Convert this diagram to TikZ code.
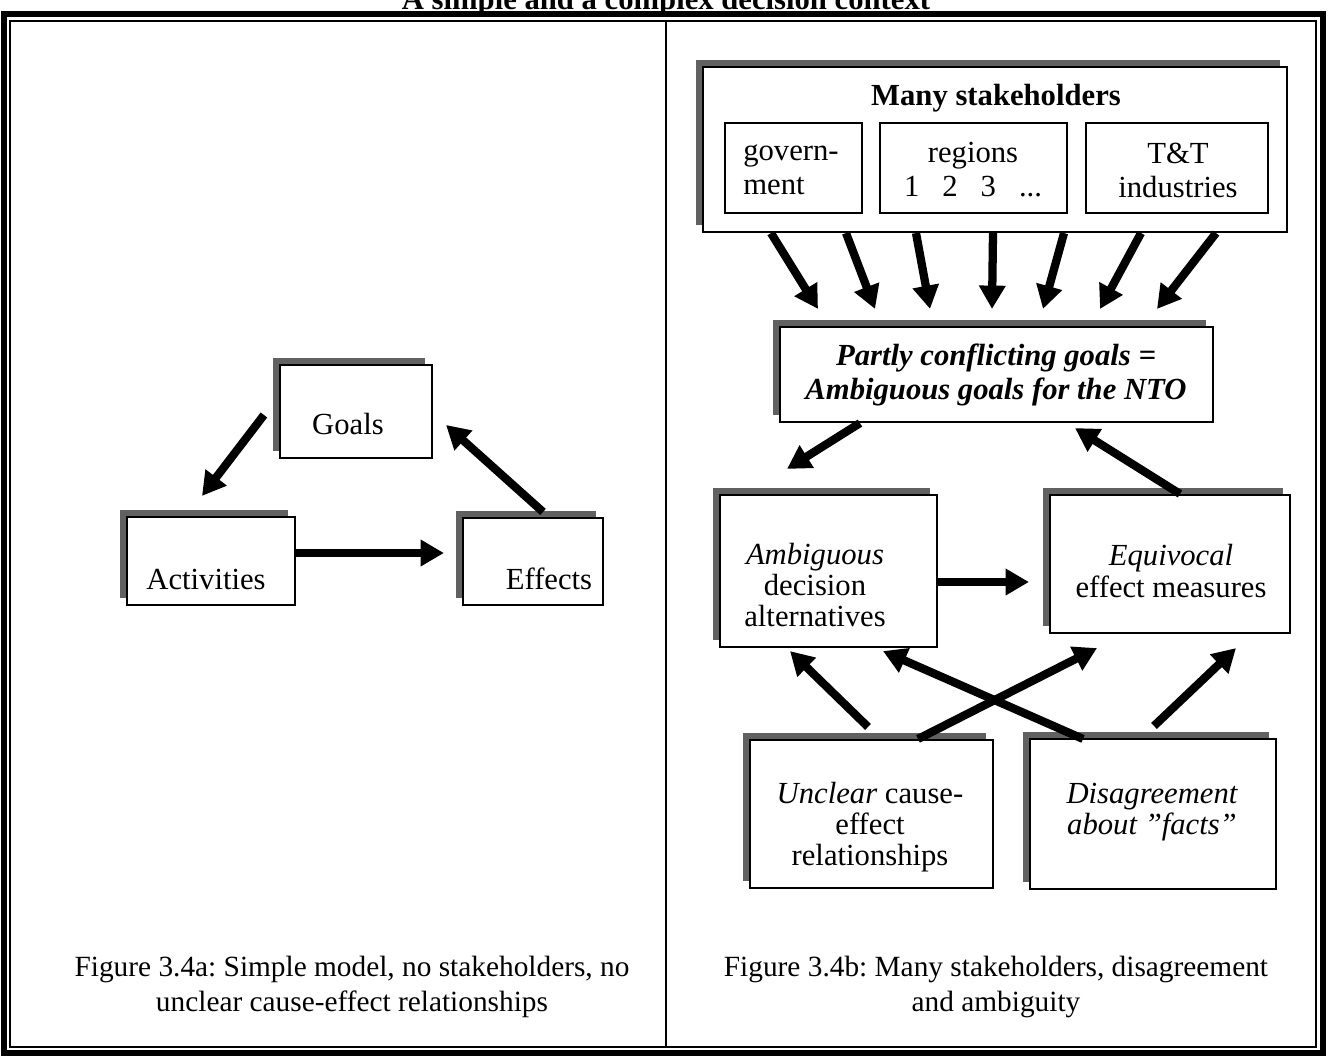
\documentclass[tikz,border=0pt]{standalone}
\usepackage{fontspec}
\setmainfont{Liberation Serif}
\usetikzlibrary{arrows.meta,shadows,calc}
\frenchspacing
\begin{document}
\begin{tikzpicture}[x=0.75pt,y=-0.75pt,
  box/.style 2 args={draw, line width=1.6pt, fill=white, inner sep=0pt,
    minimum width=#1*0.75pt, minimum height=#2*0.75pt},
  ibox/.style 2 args={draw, line width=1.3pt, fill=white, inner sep=0pt,
    minimum width=#1*0.75pt, minimum height=#2*0.75pt},
  shd/.style={general shadow={fill=black!62, shadow xshift=-5.25pt, shadow yshift=5.25pt}},
  lbl/.style={align=center, inner sep=0pt, font=\fontsize{23}{23.5}\selectfont},
  wlbl/.style={align=center, inner sep=0pt, font=\fontsize{23}{25.5}\selectfont},
  captxt/.style={align=center, inner sep=0pt, font=\fontsize{22}{26.25}\selectfont},
  arr/.style={line width=6.2pt, -{Triangle[length=17.5pt,width=19pt]}}
]
\useasboundingbox (0,0) rectangle (1331,1061);
\clip (0,0) rectangle (1331,1061);
\fill[white] (0,0) rectangle (1331,1061);

% title (cut by the top edge, as in the scan)
\node[anchor=base, inner sep=0pt, font=\fontsize{23}{24.75}\selectfont\bfseries] (title) at (666,9) {A simple and a complex decision context};

% frame
\draw[line width=5pt] (4,14) rectangle (1323,1053);
\draw[line width=1.1pt] (10,21) rectangle (1316,1047);
\draw[line width=1.1pt] (666,21) -- (666,1047);

% ---------- left panel ----------
\node[box={152}{93}, shd] (goals) at (356,411.5) {};
\node[box={168}{88}, shd] (act) at (211,561) {};
\node[box={140}{87}, shd] (eff) at (533,561.5) {};
\node[lbl] (goals-t) at (348,424) {Goals};
\node[lbl] (act-t) at (206,579) {Activities};
\node[lbl] (eff-t) at (549,579) {Effects};

\draw[arr] ($(goals.west)+(-15,3.5)$) -- ($(act.north)+(-9,-20)$);
\draw[arr] ($(act.east)+(0,-8)$) -- ($(eff.west)+(-18,-8.5)$);
\draw[arr] ($(eff.north)+(10,-5)$) -- ($(goals.east)+(13,13.5)$);

% ---------- right panel ----------
\node[box={584}{165}, shd] (stk) at (995,149.5) {};
\node[lbl, font=\fontsize{23}{24.75}\selectfont\bfseries] (stk-t) at (996,98) {Many stakeholders};
\node[ibox={137}{90}] (gov) at (793.5,168) {};
\node[ibox={187}{90}] (reg) at (973.5,168) {};
\node[ibox={182}{90}] (tt) at (1177,168) {};
\node[wlbl, align=left, anchor=west] (gov-t) at (743,170) {govern-\\ment};
\node[wlbl] (reg-t) at (973,170) {regions\\1\hspace{0.75em}2\hspace{0.75em}3\hspace{0.75em}...};
\node[wlbl] (tt-t) at (1178,170) {T\&T\\industries};

\node[box={433}{95}, shd] (part) at (996.5,374.5) {};
\node[wlbl, font=\fontsize{23}{26}\selectfont\bfseries\itshape] (part-t) at (996,375) {Partly conflicting goals =\\Ambiguous goals for the NTO};

\node[box={217}{152}, shd] (amb) at (828.5,571) {};
\node[lbl] (amb-t) at (815,585) {\textit{Ambiguous}\\decision\\alternatives};

\node[box={240}{138}, shd] (eqv) at (1170,564) {};
\node[lbl] (eqv-t) at (1171,571) {\textit{Equivocal}\\effect measures};

\node[box={243}{148}, shd] (unc) at (871.5,814) {};
\node[lbl] (unc-t) at (870,827) {\textit{Unclear} cause-\\effect\\relationships};

\node[box={246}{150}, shd] (dis) at (1153,814) {};
\node[lbl, font=\fontsize{23}{23.5}\selectfont\itshape] (dis-t) at (1152,812) {Disagreement\\about ”facts”};

% arrows stakeholders -> goals
\foreach \a/\b in {-224/-178.5, -149/-121.5, -79/-66.5, -2/-4.5, 69/46.5, 146/103.5, 221/160.5}
  \draw[arr] ($(stk.south)+(\a,0)$) -- ($(part.north)+(\b,-17)$);

\draw[arr] ($(part.south)+(-136.5,0)$) -- ($(amb.north)+(-41.5,-25)$);
\draw[arr] ($(eqv.north)+(10,0)$) -- ($(part.south)+(78.5,5)$);
\draw[arr] ($(amb.east)+(0,11)$) -- ($(eqv.west)+(-20,18)$);
\draw[arr] ($(unc.north)+(-3.5,-12)$) -- ($(amb.south)+(-38.5,3)$);
\draw[arr] ($(unc.north)+(46.5,0)$) -- ($(eqv.south)+(-73,14)$);
\draw[arr] ($(dis.north)+(-70,1)$) -- ($(amb.south)+(54.5,3)$);
\draw[arr] ($(dis.north)+(1,-12)$) -- ($(eqv.south)+(66,14)$);

% captions
\node[captxt] (capa) at (352,987) {Figure 3.4a: Simple model, no stakeholders, no\\unclear cause-effect relationships};
\node[captxt] (capb) at (996,987) {Figure 3.4b: Many stakeholders, disagreement\\and ambiguity};
\end{tikzpicture}
\end{document}
